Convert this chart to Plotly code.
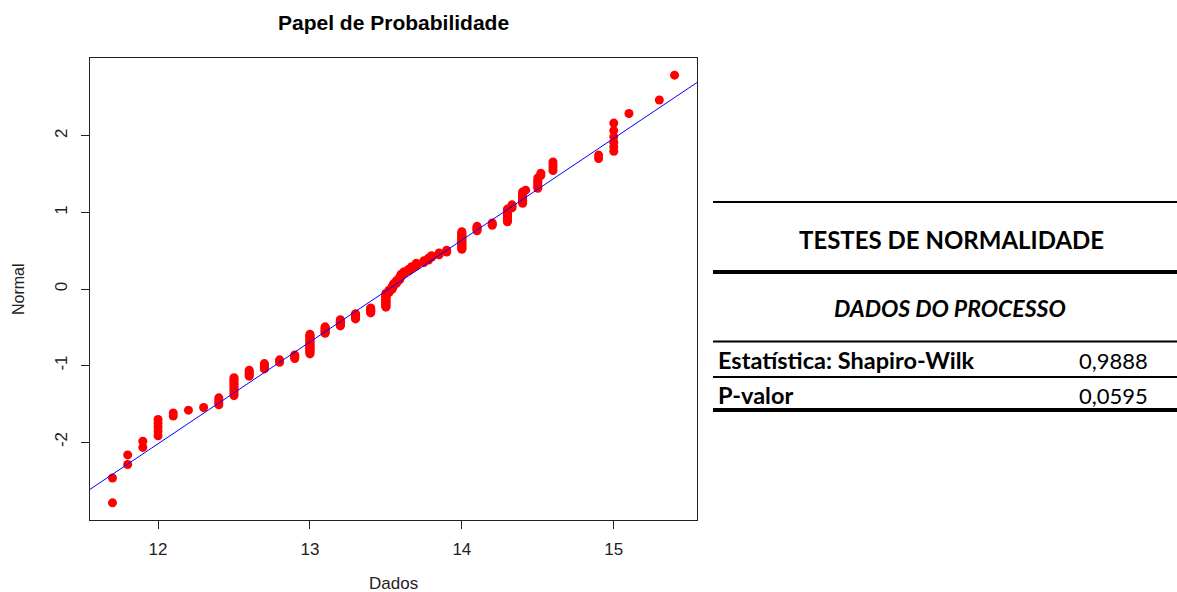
import plotly.graph_objects as go
from statistics import NormalDist

# Observed sample values (Dados) and how many observations share each value
dados_valores = [11.7, 11.8, 11.9, 12.0, 12.1, 12.2, 12.3, 12.4, 12.5, 12.6,
                 12.7, 12.8, 12.9, 13.0, 13.1, 13.2, 13.3, 13.4, 13.5,
                 13.52, 13.54, 13.55, 13.57, 13.59, 13.6, 13.62, 13.65, 13.67,
                 13.7, 13.75, 13.78, 13.8, 13.85, 13.9,
                 14.0, 14.1, 14.2, 14.3, 14.33, 14.4, 14.42, 14.5, 14.52, 14.6,
                 14.9, 15.0, 15.1, 15.3, 15.4]
dados_contagens = [2, 2, 2, 5, 2, 1, 1, 4, 11, 5,
                   5, 3, 4, 20, 8, 8, 7, 7, 18,
                   4, 4, 4, 4, 4, 4, 3, 3, 3,
                   4, 3, 3, 3, 3, 3,
                   19, 5, 3, 11, 3, 8, 1, 6, 2, 4,
                   2, 6, 1, 1, 1]

# Reference line
ref_line_x = [11.4, 15.7]
ref_line_y = [-2.82, 2.90]

tick_x = [12, 13, 14, 15]
tick_y = [-2, -1, 0, 1, 2]

titulo = "Papel de Probabilidade"
rotulo_x = "Dados"
rotulo_y = "Normal"

tabela_titulo = "TESTES DE NORMALIDADE"
tabela_subtitulo = "DADOS DO PROCESSO"
tabela_rotulos = ["Estatística: Shapiro-Wilk", "P-valor"]
tabela_valores = ["0,9888", "0,0595"]

# Normal probability plot: sorted sample vs theoretical normal quantiles
amostra = []
for v, c in zip(dados_valores, dados_contagens):
    amostra.extend([v] * c)
amostra.sort()
n = len(amostra)
nd = NormalDist()
quantis = [nd.inv_cdf((k - 0.375) / (n + 0.25)) for k in range(1, n + 1)]

W, H = 1177, 592
def px(xp):
    return xp / W
def py(yp):
    return 1 - yp / H

AX_FONT = "Liberation Sans, Arial, Helvetica, sans-serif"
TB_FONT = "Lato, Open Sans, sans-serif"

fig = go.Figure()
fig.add_trace(go.Scatter(x=amostra, y=quantis, mode="markers",
                         marker=dict(color="red", size=9, line=dict(width=0)),
                         showlegend=False, hoverinfo="x+y"))
fig.add_trace(go.Scatter(x=ref_line_x, y=ref_line_y, mode="lines",
                         line=dict(color="blue", width=1),
                         showlegend=False, hoverinfo="skip"))

fig.update_layout(
    width=W, height=H,
    margin=dict(l=0, r=0, t=0, b=0),
    paper_bgcolor="white", plot_bgcolor="white",
    showlegend=False,
    xaxis=dict(domain=[px(90), px(697)], range=[11.552, 15.548],
               tickmode="array", tickvals=tick_x, ticktext=[str(t) for t in tick_x],
               ticks="outside", ticklen=8, tickcolor="#222", tickwidth=1,
               showline=True, linecolor="#222", linewidth=1, mirror=True,
               showgrid=False, zeroline=False,
               tickfont=dict(family=AX_FONT, size=17, color="#222"),
               ticklabelstandoff=6),
    yaxis=dict(domain=[py(520), py(58)], range=[-3.018, 3.018],
               tickmode="array", tickvals=tick_y, ticktext=[str(t) for t in tick_y],
               ticks="outside", ticklen=8, tickcolor="#222", tickwidth=1,
               showline=True, linecolor="#222", linewidth=1, mirror=True,
               showgrid=False, zeroline=False, tickangle=-90,
               tickfont=dict(family=AX_FONT, size=17, color="#222"),
               ticklabelstandoff=7),
)

anns = [
    dict(text="<b>" + titulo + "</b>", x=px(393.5), y=py(22),
         font=dict(family=AX_FONT, size=21, color="black")),
    dict(text=rotulo_x, x=px(393.5), y=py(583),
         font=dict(family=AX_FONT, size=17, color="#222")),
    dict(text=rotulo_y, x=px(18), y=py(289), textangle=-90,
         font=dict(family=AX_FONT, size=16, color="#222")),
    dict(text="<b>" + tabela_titulo + "</b>", x=px(951), y=py(239),
         font=dict(family=TB_FONT, size=24, color="black")),
    dict(text="<b><i>" + tabela_subtitulo + "</i></b>", x=px(950), y=py(308),
         font=dict(family=TB_FONT, size=23, color="black")),
]
linhas_y = [360, 395]
for rot, val, yy in zip(tabela_rotulos, tabela_valores, linhas_y):
    anns.append(dict(text="<b>" + rot + "</b>", x=px(716), y=py(yy), xanchor="left",
                     font=dict(family=TB_FONT, size=23.5, color="black")))
    anns.append(dict(text=val, x=px(1150), y=py(yy), xanchor="right",
                     font=dict(family=TB_FONT, size=22, color="black")))
for a in anns:
    a.setdefault("xanchor", "center")
    a.update(xref="paper", yref="paper", yanchor="middle", showarrow=False)
fig.update_layout(annotations=anns)

# Table rules: (pixel y, thickness)
regras = [(202, 2), (272, 4), (341.5, 2), (377, 2), (410, 4)]
shapes = []
for yy, lw in regras:
    shapes.append(dict(type="line", xref="paper", yref="paper",
                       x0=px(713), x1=1.0, y0=py(yy), y1=py(yy),
                       line=dict(color="black", width=lw)))
fig.update_layout(shapes=shapes)

fig.write_html("out.html")
